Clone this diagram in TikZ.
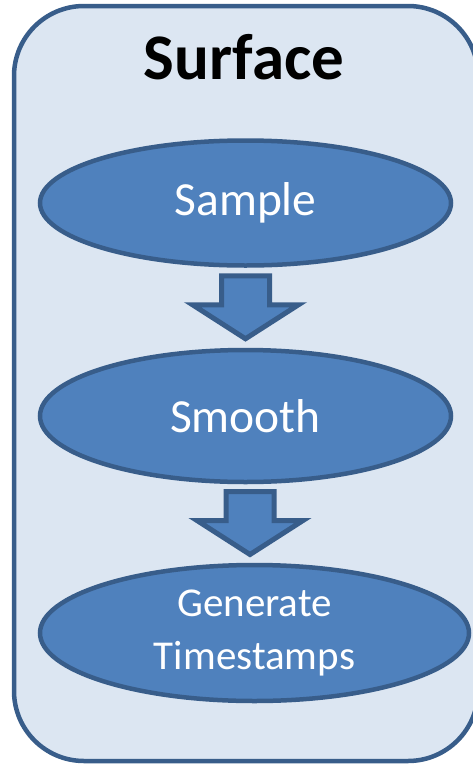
\documentclass[tikz,border=0pt]{standalone}
\usepackage{fontspec}
\setmainfont{Carlito}
\usetikzlibrary{shapes.geometric,calc}
\definecolor{panelfill}{HTML}{DCE6F2}
\definecolor{edgeblue}{HTML}{385D8A}
\definecolor{stepfill}{HTML}{4F81BD}
\tikzset{
  panel/.style={rectangle, draw=edgeblue, fill=panelfill, line width=4.5pt, rounded corners=70pt, inner sep=0pt},
  stepnode/.style={ellipse, draw=edgeblue, fill=stepfill, line width=4.5pt, inner sep=0pt, text=white, align=center},
  downarrow/.pic={
    \draw[draw=edgeblue, fill=stepfill, line width=5pt, line join=miter]
      (-24,-32) -- (24,-32) -- (24,-3) -- (53,-3) -- (0,31) -- (-53,-3) -- (-24,-3) -- cycle;
  }
}
\begin{document}
\begin{tikzpicture}[x=1pt, y=-1pt]
  \useasboundingbox (0,0) rectangle (473,766);

  % container
  \node[panel, minimum width=464pt, minimum height=755pt] (surfacepanel) at (246,383.5) {};
  \node[font=\bfseries\fontsize{65}{65}\selectfont, anchor=base] (title) at (244,79) {Surface};

  % processing steps
  \node[stepnode, minimum width=411pt, minimum height=125pt, font=\fontsize{47.5}{50}\selectfont]
    (sample) at (245.5,203) {Sample};
  \node[stepnode, minimum width=411pt, minimum height=132pt, font=\fontsize{47.5}{50}\selectfont]
    (smooth) at (245.5,416) {Smooth};
  \node[stepnode, minimum width=429pt, minimum height=136pt, font=\fontsize{41}{53}\selectfont]
    (generate) at (254.5,633) {Generate\\Timestamps};

  % block arrows between steps
  \pic at ($(sample.south)!0.5!(smooth.north)$) {downarrow};
  \pic at ($(smooth.south)!0.5!(generate.north)$) {downarrow};
\end{tikzpicture}
\end{document}
